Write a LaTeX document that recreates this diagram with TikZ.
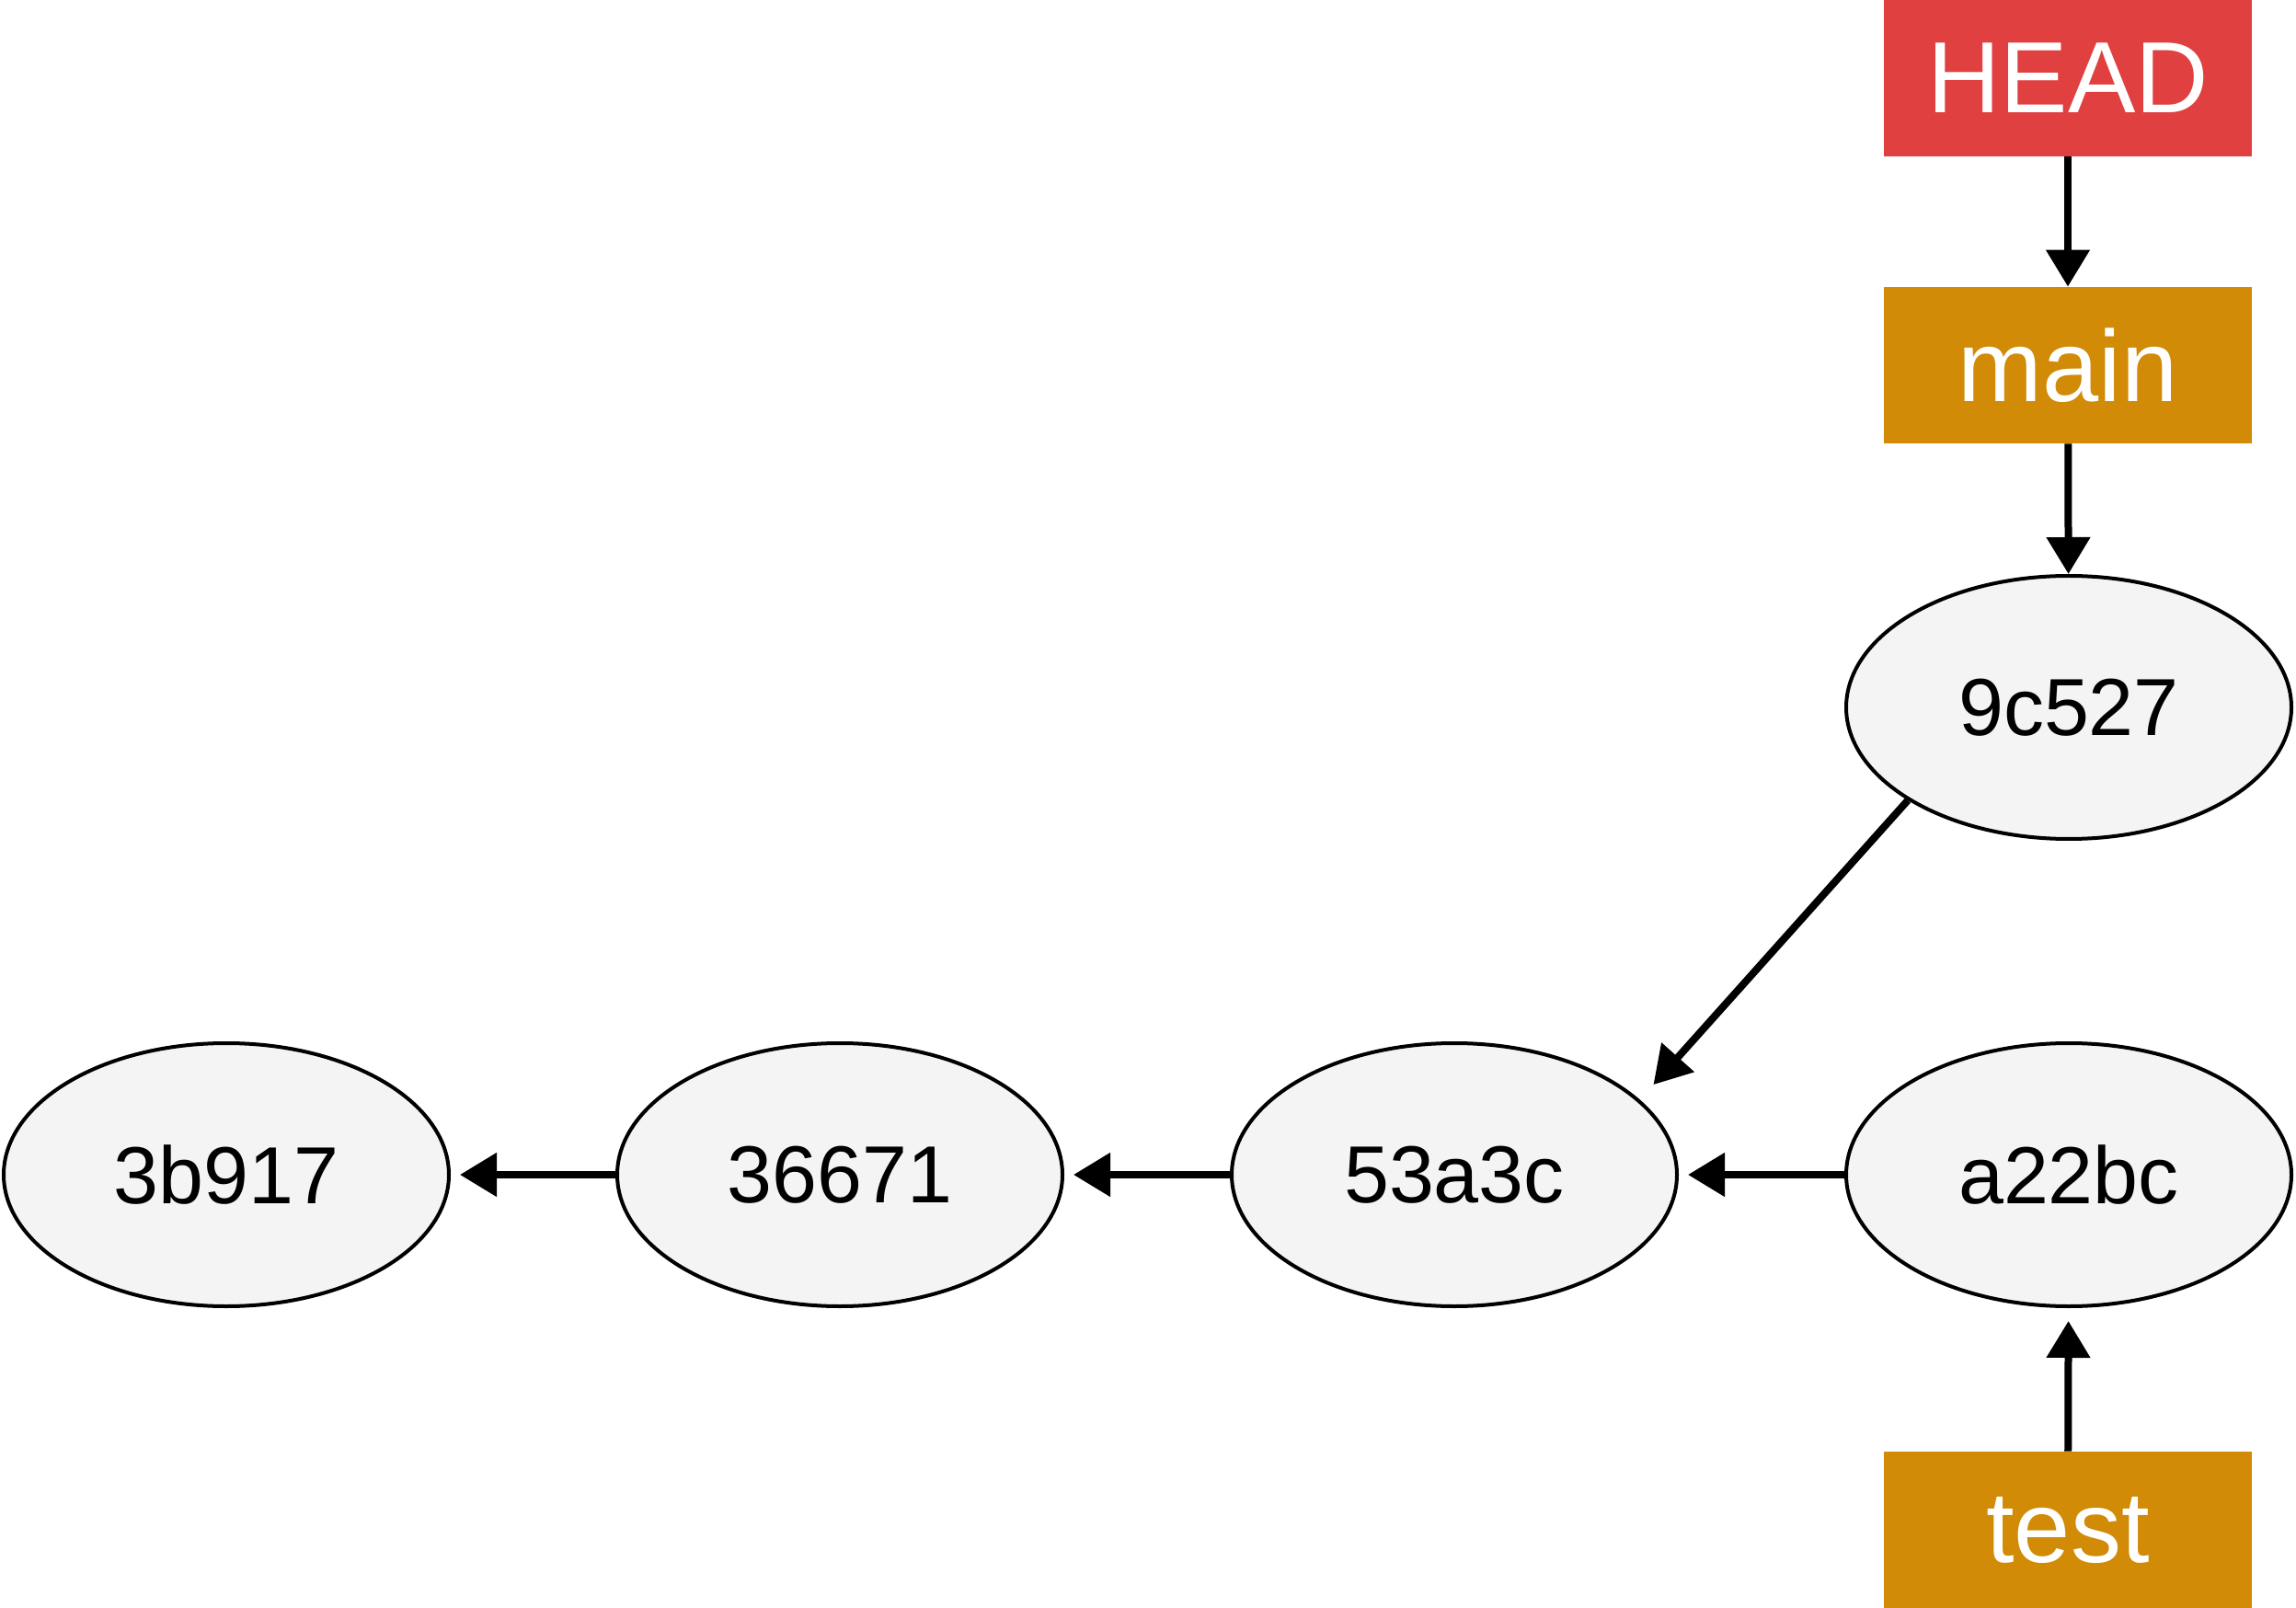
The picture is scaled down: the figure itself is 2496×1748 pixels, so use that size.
\documentclass[tikz,border=0pt]{standalone}
\usepackage{fontspec}
\setmainfont{Liberation Sans}
\usetikzlibrary{shapes.geometric,arrows.meta}
\definecolor{headred}{HTML}{E04040}
\definecolor{branchgold}{HTML}{D18B06}
\definecolor{commitgray}{HTML}{F4F4F4}

\begin{document}
\begin{tikzpicture}[x=0.5pt, y=-0.5pt,
  commit/.style={ellipse, draw, line width=2pt, fill=commitgray,
    minimum width=242pt, minimum height=143pt, inner sep=0pt,
    font=\fontsize{44}{50}\selectfont},
  ref/.style={rectangle, minimum width=200pt, minimum height=85pt,
    inner sep=0pt, text=white, font=\fontsize{55}{60}\selectfont},
  link/.style={line width=4pt, -{Triangle[length=20pt,width=23pt]}}]

\useasboundingbox (0,0) rectangle (2496,1748);

%commit node: name c<hash>, placed at (x, y)
\newcommand{\commitnode}[3]{
        \node[commit] (c#1) at (#2,#3) {#1};
}

%%refs
\node[ref, fill=headred] (head) at (2248,85) {HEAD};
\node[ref, fill=branchgold] (main) at (2248,397) {main};
\node[ref, fill=branchgold] (test) at (2248,1663) {test};

%%tip of main
\commitnode{9c527}{2249}{769}

%%bottom row
\commitnode{3b917}{246}{1277}
\commitnode{36671}{913}{1277}
\commitnode{53a3c}{1581}{1277}
\commitnode{a22bc}{2249}{1277}

%%pointers
\draw[link] (head) -- (main);
\draw[link] (main) -- (c9c527);
\draw[link, shorten >=7pt] (test) -- (ca22bc);

%%parents
\draw[link, shorten >=11pt] (c9c527.210.5) -- (c53a3c.22.7);
\draw[link, shorten >=5pt] (ca22bc.west) -- (c53a3c.east);
\draw[link, shorten >=5pt] (c53a3c.west) -- (c36671.east);
\draw[link, shorten >=5pt] (c36671.west) -- (c3b917.east);

\end{tikzpicture}
\end{document}
